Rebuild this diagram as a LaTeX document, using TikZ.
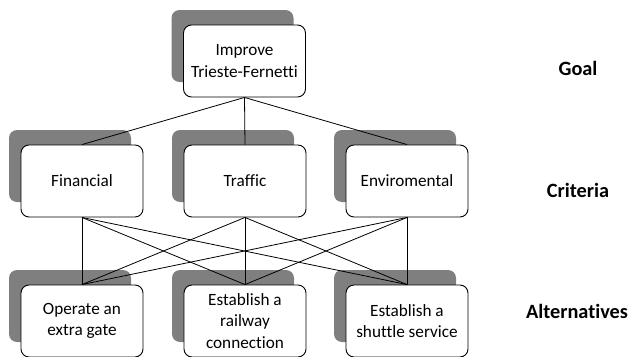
\documentclass[tikz,border=0pt]{standalone}
\usepackage{fontspec}
\setmainfont{Carlito}[Ligatures={NoCommon}]
\usetikzlibrary{shadows}
\definecolor{shadowgray}{HTML}{7F7F7F}
\tikzset{
  hbox/.style={draw=black, line width=0.9pt, fill=white, rounded corners=8pt,
    minimum width=122pt, minimum height=72pt, align=center, inner sep=2pt,
    font=\fontsize{17.2}{21.5}\selectfont,
    general shadow={shadow xshift=-12pt, shadow yshift=15pt, fill=shadowgray, draw=none}},
  level/.style={font=\fontsize{20.3}{24}\selectfont\bfseries, anchor=center},
  link/.style={draw=black, line width=0.8pt}
}
\begin{document}
\begin{tikzpicture}[x=1pt, y=-1pt]
  \useasboundingbox (0,0) rectangle (629,356);
  % hierarchy boxes
  \node[hbox] (goal) at (244.5,61) {Improve\\Trieste-Fernetti};
  \node[hbox] (fin) at (82,181) {Financial};
  \node[hbox] (tra) at (245,181) {Traffic};
  \node[hbox] (env) at (407,181) {Enviromental};
  \node[hbox] (gate) at (82,321) {Operate an\\extra gate};
  \node[hbox] (rail) at (245,321) {Establish a\\railway\\connection};
  \node[hbox] (shut) at (407,321) {Establish a\\shuttle service};
  % goal to criteria
  \foreach \c in {fin,tra,env}
    \draw[link] (goal.south) -- (\c.north);
  % criteria to alternatives
  \foreach \c in {fin,tra,env}
    \foreach \a in {gate,rail,shut}
      \draw[link] (\c.south) -- (\a.north);
  % level labels
  \node[level] (lgoal) at (578,68) {Goal};
  \node[level] (lcrit) at (578,190) {Criteria};
  \node[level] (lalt) at (577,311) {Alternatives};
\end{tikzpicture}
\end{document}
